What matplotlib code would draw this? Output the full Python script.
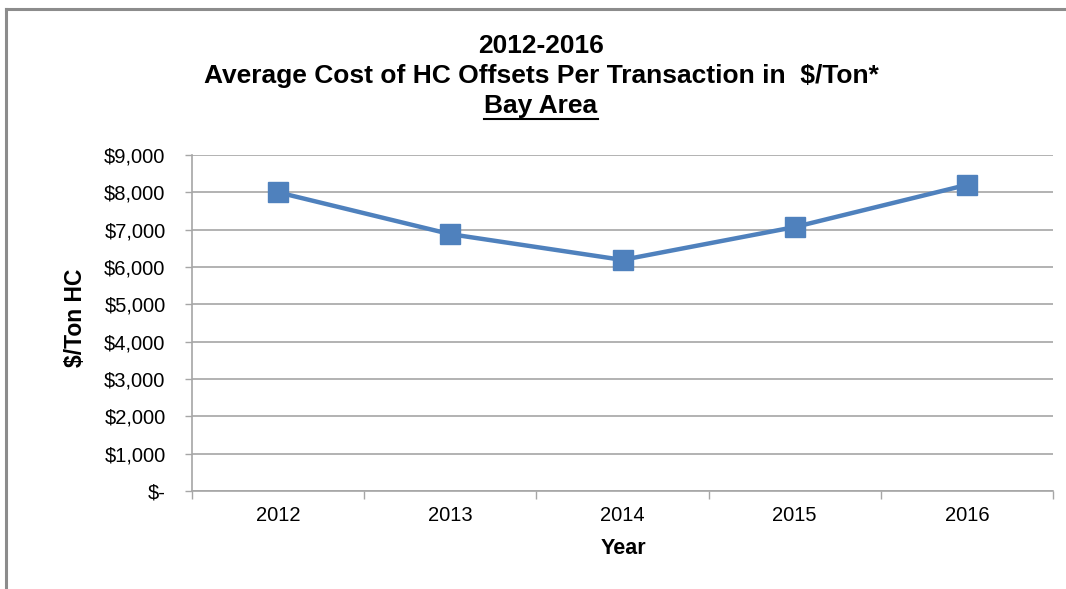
import matplotlib
matplotlib.use("Agg")
import matplotlib.pyplot as plt
from matplotlib.lines import Line2D

plt.rcParams['font.family'] = ['Liberation Sans', 'DejaVu Sans']

years = ["2012", "2013", "2014", "2015", "2016"]
cost = [8000, 6880, 6190, 7070, 8200]
ytick_values = [0, 1000, 2000, 3000, 4000, 5000, 6000, 7000, 8000, 9000]
ytick_labels = ["$-", "$1,000", "$2,000", "$3,000", "$4,000", "$5,000",
                "$6,000", "$7,000", "$8,000", "$9,000"]
title_lines = ["2012-2016", "Average Cost of HC Offsets Per Transaction in  $/Ton*", "Bay Area"]
ylabel = "$/Ton HC"
xlabel = "Year"

W, H = 1066, 589
fig = plt.figure(figsize=(W / 100, H / 100), dpi=100)
ax = fig.add_axes([192 / W, 1 - 491 / H, (1053 - 192) / W, (491 - 155) / H])

grid_c = "#A6A6A6"
x = list(range(len(years)))
ax.plot(x, cost, color="#4F81BD", lw=3.2, marker="s", markersize=15,
        markerfacecolor="#4F81BD", markeredgecolor="#4F81BD", zorder=3,
        solid_joinstyle="round")

ax.set_xlim(-0.5, len(years) - 0.5)
ax.set_ylim(0, 9000)
ax.set_yticks(ytick_values)
ax.set_yticklabels(ytick_labels)
ax.set_xticks(x)
ax.set_xticklabels(years)
ax.set_xticks([i - 0.5 for i in range(len(years) + 1)], minor=True)
ax.tick_params(axis="x", which="major", length=0, pad=11, labelsize=14.5, labelcolor="#000000")
ax.tick_params(axis="x", which="minor", length=6, width=1, color=grid_c, direction="out")
ax.tick_params(axis="y", which="major", length=5, width=1, color=grid_c, direction="out",
               pad=14, labelsize=14.5)
ax.yaxis.grid(True, color=grid_c, lw=1.2)
ax.set_axisbelow(True)
for s in ["top", "right"]:
    ax.spines[s].set_visible(False)
for s in ["left", "bottom"]:
    ax.spines[s].set_color(grid_c)
    ax.spines[s].set_linewidth(1.2)

fig.text(75 / W, 1 - 318 / H, ylabel, rotation=90, ha="center", va="center",
         fontsize=16.5, fontweight="bold")
fig.text(623 / W, 1 - 548 / H, xlabel, ha="center", va="center",
         fontsize=15.5, fontweight="bold")

tx = 541 / W
t1 = fig.text(tx, 1 - 46 / H, title_lines[0], ha="center", va="center", fontsize=19, fontweight="bold")
t2 = fig.text(tx, 1 - 76 / H, title_lines[1], ha="center", va="center", fontsize=19, fontweight="bold")
t3 = fig.text(tx, 1 - 106 / H, title_lines[2], ha="center", va="center", fontsize=19, fontweight="bold")

# underline for "Bay Area"
fig.canvas.draw()
bb = t3.get_window_extent(renderer=fig.canvas.get_renderer())
uy = (H - 119) / H
fig.add_artist(Line2D([bb.x0 / W, bb.x1 / W], [uy, uy], transform=fig.transFigure,
                      color="black", lw=1.5))

# chart border (top and left visible)
bc = "#8C8C8C"
fig.add_artist(Line2D([6 / W, 1.0], [1 - 9 / H, 1 - 9 / H], transform=fig.transFigure, color=bc, lw=2.2))
fig.add_artist(Line2D([6 / W, 6 / W], [0, 1 - 9 / H], transform=fig.transFigure, color=bc, lw=2.2))

fig.savefig("out.png", dpi=100)
